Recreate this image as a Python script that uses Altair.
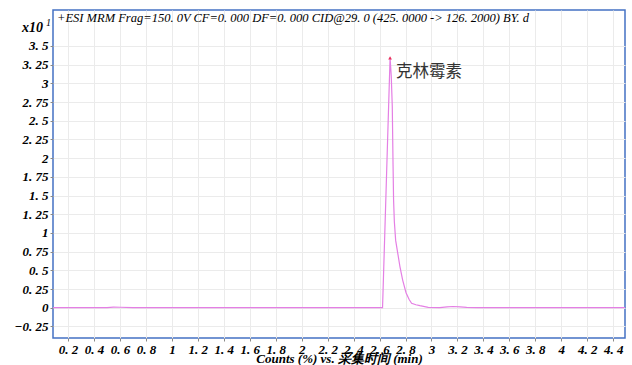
import altair as alt
import pandas as pd

# Chromatogram trace (time in min, counts x10^1)
times = [0.085, 0.2, 0.35, 0.5, 0.55, 0.6, 0.7, 0.9, 1.2, 1.5, 1.8, 2.1, 2.4, 2.55,
         2.623, 2.635, 2.65, 2.665, 2.681, 2.69, 2.698, 2.704, 2.708, 2.714, 2.724,
         2.740, 2.757, 2.778, 2.804, 2.828, 2.847, 2.88, 2.911, 2.975, 3.065, 3.12,
         3.166, 3.22, 3.271, 3.35, 3.45, 3.6, 3.8, 4.0, 4.2, 4.4, 4.49]
counts = [0, 0, 0, 0, 0.008, 0.006, 0, 0, 0, 0, 0, 0, 0, 0,
          0, 0.69, 1.55, 2.42, 3.34, 3.1, 2.69, 1.9, 1.44, 1.15, 0.9,
          0.73, 0.55, 0.37, 0.2, 0.11, 0.06, 0.04, 0.027, 0.005, 0.0, 0.01,
          0.016, 0.01, 0.004, 0.0, 0, 0, 0, 0, 0, 0, 0]

peak_time = [2.681]
peak_count = [3.34]
peak_label = ["克林霉素"]

x_ticks = [0.2, 0.4, 0.6, 0.8, 1.0, 1.2, 1.4, 1.6, 1.8, 2.0, 2.2, 2.4, 2.6, 2.8,
           3.0, 3.2, 3.4, 3.6, 3.8, 4.0, 4.2, 4.4]
y_ticks = [-0.25, 0, 0.25, 0.5, 0.75, 1, 1.25, 1.5, 1.75, 2, 2.25, 2.5, 2.75, 3, 3.25, 3.5]

title_text = "+ESI MRM Frag=150. 0V CF=0. 000 DF=0. 000 CID@29. 0 (425. 0000 -> 126. 2000) BY. d"
x_title = "Counts (%) vs. 采集时间 (min)"

df = pd.DataFrame({"t": times, "v": counts})
peak_df = pd.DataFrame({"t": peak_time, "v": peak_count, "label": peak_label})

x_scale = alt.Scale(domain=[0.084, 4.491], nice=False, zero=False)
y_scale = alt.Scale(domain=[-0.405, 3.98], nice=False, zero=False)

SERIF = "Liberation Serif"

x_axis = alt.Axis(
    values=x_ticks, title=x_title, grid=True, gridColor="#ebebeb", domain=False,
    tickColor="#888888", tickSize=3, labelPadding=2,
    labelExpr="replace(format(datum.value, '.1~f'), '.', '. ')",
    labelFont=SERIF, labelFontStyle="italic", labelFontWeight="bold", labelFontSize=13,
    labelColor="#000000", labelFlush=False, labelOverlap=False,
    titleFont=SERIF, titleFontStyle="italic", titleFontWeight="bold", titleFontSize=13,
    titleColor="#000000", titleY=24, titleBaseline="alphabetic",
)
y_axis = alt.Axis(
    values=y_ticks, title=None, grid=True, gridColor="#ebebeb", domain=False,
    tickColor="#888888", tickSize=3, labelPadding=2,
    labelExpr="replace(format(datum.value, '.2~f'), '.', '. ')",
    labelFont=SERIF, labelFontStyle="italic", labelFontWeight="bold", labelFontSize=13,
    labelColor="#000000", labelFlush=False, labelOverlap=False,
)

X = alt.X("t:Q", scale=x_scale, axis=x_axis, title=x_title)
Y = alt.Y("v:Q", scale=y_scale, axis=y_axis, title=None)

line = alt.Chart(df).mark_line(color="#e47fe4", strokeWidth=1.2).encode(x=X, y=Y)

marker = alt.Chart(peak_df).mark_point(shape="triangle-up", filled=True, size=14,
                                        color="#e8305a", opacity=1).encode(x=X, y=Y)

label = alt.Chart(peak_df).mark_text(align="left", baseline="middle", dx=6, dy=14,
                                     font="Noto Sans CJK SC", fontSize=16.5,
                                     color="#333333").encode(x=X, y=Y, text="label:N")

title = alt.Chart(pd.DataFrame({"s": [title_text]})).mark_text(
    align="left", baseline="middle", font=SERIF, fontStyle="italic", fontSize=12.5,
    color="#000000").encode(x=alt.value(4), y=alt.value(8), text="s:N")

x10 = alt.Chart(pd.DataFrame({"s": ["x10"]})).mark_text(
    align="right", baseline="alphabetic", font=SERIF, fontStyle="italic",
    fontWeight="bold", fontSize=14, color="#000000").encode(
    x=alt.value(-10), y=alt.value(22), text="s:N")
sup = alt.Chart(pd.DataFrame({"s": ["1"]})).mark_text(
    align="left", baseline="alphabetic", font=SERIF, fontStyle="italic",
    fontSize=10, color="#000000").encode(
    x=alt.value(-7), y=alt.value(16), text="s:N")

chart = alt.layer(line, marker, label, title, x10, sup).properties(
    width=572, height=328,
    autosize=alt.AutoSizeParams(type="none"),
    padding={"left": 53, "top": 10, "right": 7, "bottom": 27},
    background="#ffffff",
).configure_view(stroke="#4472C4", strokeWidth=1.5
).configure_axis(labelOverlap=False)

chart.save("out.html", embed_options={"renderer": "svg", "actions": False})
